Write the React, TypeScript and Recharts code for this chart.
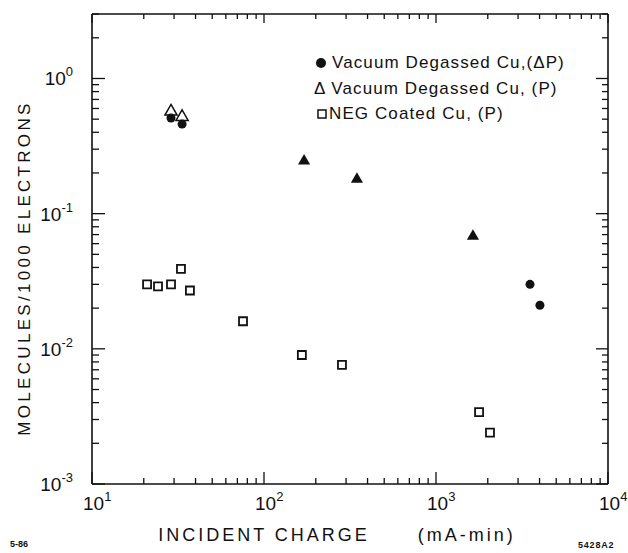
import { ScatterChart, Scatter, XAxis, YAxis } from 'recharts';

// incident charge (mA-min) / molecules per 1000 electrons
const dpCharge = [28.8, 33.4, 3520, 4020];
const dpYield = [0.51, 0.46, 0.030, 0.021];

const pOpenCharge = [28.8, 33.4];
const pOpenYield = [0.57, 0.52];

const pSolidCharge = [171, 347, 1640];
const pSolidYield = [0.245, 0.18, 0.068];

const negCharge = [20.9, 24.2, 28.8, 32.9, 37.1, 75.5, 166, 284, 1780, 2060];
const negYield = [0.030, 0.029, 0.030, 0.039, 0.027, 0.016, 0.009, 0.0076, 0.0034, 0.0024];

const xTicks = [
  10, 20, 30, 40, 50, 60, 70, 80, 90,
  100, 200, 300, 400, 500, 600, 700, 800, 900,
  1000, 2000, 3000, 4000, 5000, 6000, 7000, 8000, 9000, 10000,
];
const yTicks = [
  0.001, 0.002, 0.003, 0.004, 0.005, 0.006, 0.007, 0.008, 0.009,
  0.01, 0.02, 0.03, 0.04, 0.05, 0.06, 0.07, 0.08, 0.09,
  0.1, 0.2, 0.3, 0.4, 0.5, 0.6, 0.7, 0.8, 0.9,
  1, 2, 3,
];

const legendLabels = ['Vacuum Degassed Cu,(\u0394P)', '\u0394 Vacuum Degassed Cu, (P)', 'NEG Coated Cu, (P)'];

const toPoints = (xs, ys) => xs.map((x, i) => ({ x, y: ys[i] }));

const FONT = '"Liberation Sans", Arial, sans-serif';
const INK = '#111';

const isMajor = (v) => Math.abs(Math.log10(v) - Math.round(Math.log10(v))) < 1e-6;
const expOf = (v) => Math.round(Math.log10(v));

const BottomTick = ({ x, y, payload }) => {
  const major = isMajor(payload.value);
  return (
    <g>
      <line x1={x} x2={x} y1={y} y2={y - (major ? 12 : 6)} stroke={INK} strokeWidth={1.3} />
      {major && (
        <text x={x - 9} y={y + 26} textAnchor="start" fontSize={19} fill={INK} fontFamily={FONT}>
          10<tspan dy={-9} fontSize={13}>{expOf(payload.value)}</tspan>
        </text>
      )}
    </g>
  );
};

const TopTick = ({ x, y, payload }) => {
  const major = isMajor(payload.value);
  return <line x1={x} x2={x} y1={y} y2={y + (major ? 9 : 5)} stroke={INK} strokeWidth={1.3} />;
};

const LeftTick = ({ x, y, payload }) => {
  const major = isMajor(payload.value);
  return (
    <g>
      <line x1={x} x2={x + (major ? 13 : 7)} y1={y} y2={y} stroke={INK} strokeWidth={1.3} />
      {major && (
        <text x={x - 19} y={y + 7} textAnchor="end" fontSize={19} fill={INK} fontFamily={FONT}>
          10<tspan dy={-9} fontSize={13}>{expOf(payload.value)}</tspan>
        </text>
      )}
    </g>
  );
};

const RightTick = ({ x, y, payload }) => {
  const major = isMajor(payload.value);
  return <line x1={x} x2={x - (major ? 12 : 6)} y1={y} y2={y} stroke={INK} strokeWidth={1.3} />;
};

const LegendBox = () => (
  <div style={{ position: 'absolute', left: 314, top: 50, fontFamily: FONT, fontSize: 17, color: INK, letterSpacing: 1.1, lineHeight: '25.5px', whiteSpace: 'nowrap' }}>
    <div style={{ display: 'flex', alignItems: 'center' }}>
      <svg width={16} height={14} style={{ marginRight: 2 }}><circle cx={7} cy={7} r={5} fill={INK} /></svg>
      <span>{legendLabels[0]}</span>
    </div>
    <div style={{ display: 'flex', alignItems: 'center' }}>
      <span>{legendLabels[1]}</span>
    </div>
    <div style={{ display: 'flex', alignItems: 'center' }}>
      <svg width={14} height={14} style={{ marginRight: 1 }}><rect x={4} y={3} width={8} height={8} fill="#fff" stroke={INK} strokeWidth={1.5} /></svg>
      <span>{legendLabels[2]}</span>
    </div>
  </div>
);

export default function App() {
  return (
    <div style={{ position: 'relative', width: 628, height: 553, background: '#fff' }}>
      <style>{'body{margin:0}'}</style>
      <ScatterChart width={628} height={553} margin={{ top: 13, right: 19, bottom: 29, left: 30 }}>
        <XAxis
          dataKey="x" type="number" scale="log" domain={[10, 10000]} allowDataOverflow
          ticks={xTicks} interval={0} tick={BottomTick} tickLine={false} tickSize={0} tickMargin={0}
          height={40} axisLine={{ stroke: INK, strokeWidth: 1.6 }}
        />
        <XAxis
          xAxisId="top" orientation="top" dataKey="x" type="number" scale="log" domain={[10, 10000]} allowDataOverflow
          ticks={xTicks} interval={0} tick={TopTick} tickLine={false} tickSize={0} tickMargin={0}
          height={1} axisLine={{ stroke: INK, strokeWidth: 1.6 }}
        />
        <YAxis
          dataKey="y" type="number" scale="log" domain={[0.001, 3]} allowDataOverflow
          ticks={yTicks} interval={0} tick={LeftTick} tickLine={false} tickSize={0} tickMargin={0}
          width={62} axisLine={{ stroke: INK, strokeWidth: 1.6 }}
        />
        <YAxis
          yAxisId="right" orientation="right" dataKey="y" type="number" scale="log" domain={[0.001, 3]} allowDataOverflow
          ticks={yTicks} interval={0} tick={RightTick} tickLine={false} tickSize={0} tickMargin={0}
          width={1} axisLine={{ stroke: INK, strokeWidth: 1.6 }}
        />
        <Scatter data={toPoints(negCharge, negYield)} shape="square" size={85} fill="#fff" stroke={INK} strokeWidth={1.8} isAnimationActive={false} />
        <Scatter data={toPoints(pOpenCharge, pOpenYield)} shape="triangle" size={85} fill="#fff" stroke={INK} strokeWidth={1.5} isAnimationActive={false} />
        <Scatter data={toPoints(pSolidCharge, pSolidYield)} shape="triangle" size={95} fill={INK} isAnimationActive={false} />
        <Scatter data={toPoints(dpCharge, dpYield)} shape="circle" size={80} fill={INK} isAnimationActive={false} />
      </ScatterChart>
      <LegendBox />
      <div style={{ position: 'absolute', left: 25, top: 268, transform: 'translate(-50%, -50%) rotate(-90deg)', whiteSpace: 'nowrap', fontFamily: FONT, fontSize: 17, letterSpacing: 3.3, color: INK }}>
        MOLECULES/1000 ELECTRONS
      </div>
      <div style={{ position: 'absolute', left: 337, top: 535, transform: 'translate(-50%, -50%)', whiteSpace: 'pre', fontFamily: FONT, fontSize: 18, letterSpacing: 3, color: INK }}>
        {'INCIDENT CHARGE      (mA-min)'}
      </div>
      <div style={{ position: 'absolute', left: 10, top: 539, fontFamily: FONT, fontSize: 9, fontWeight: 'bold', color: INK }}>5-86</div>
      <div style={{ position: 'absolute', left: 578, top: 540, fontFamily: FONT, fontSize: 9, fontWeight: 'bold', letterSpacing: 0.8, color: INK }}>5428A2</div>
    </div>
  );
}
